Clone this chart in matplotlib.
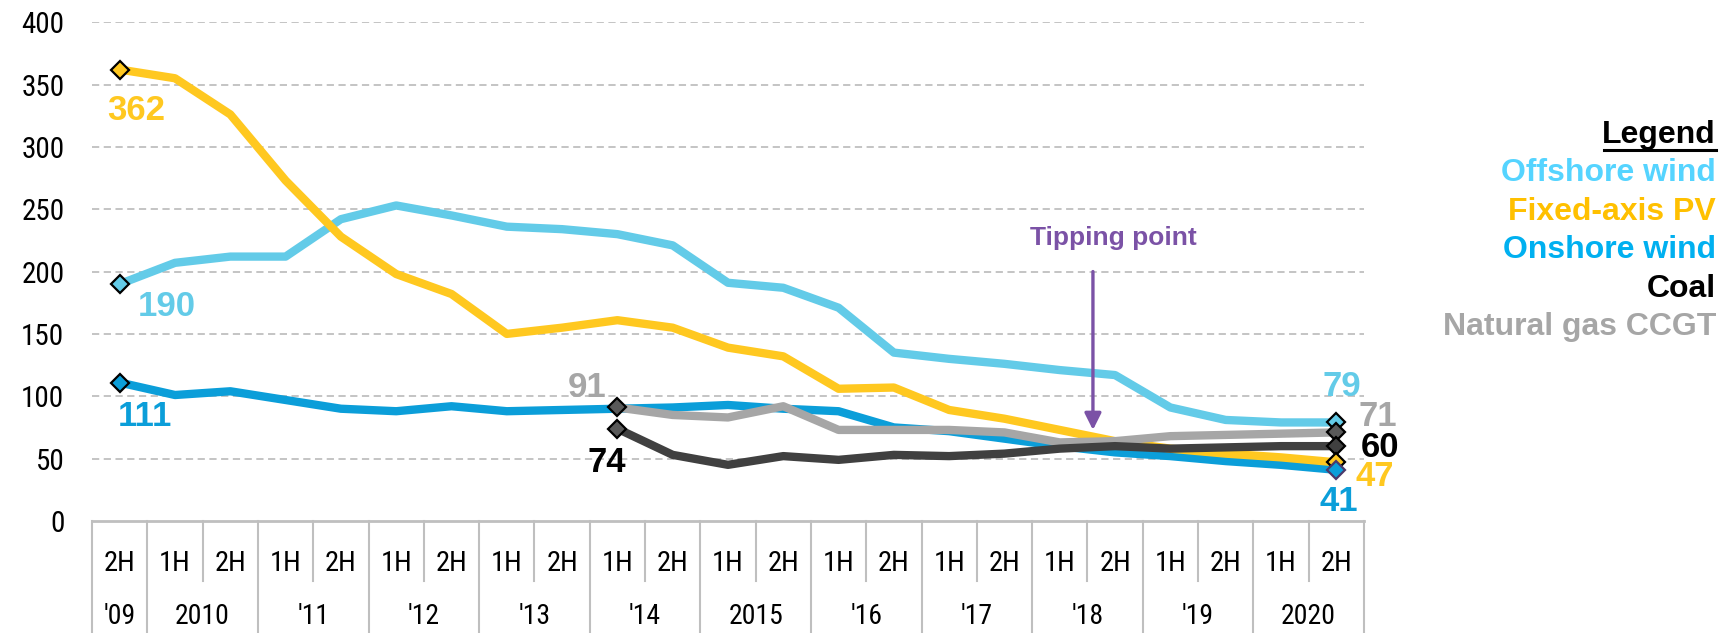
import numpy as np
import matplotlib
matplotlib.use("Agg")
import matplotlib.pyplot as plt
import matplotlib.transforms as mtransforms
from matplotlib import font_manager as fm

# half-year categories, 2H'09 .. 2H 2020
halves = ["2H"] + ["1H", "2H"] * 11
years = ["'09", "2010", "'11", "'12", "'13", "'14", "2015", "'16", "'17", "'18", "'19", "2020"]
year_spans = [(0, 0)] + [(1 + 2 * k, 2 + 2 * k) for k in range(11)]

offshore = [190, 207, 212, 212, 242, 253, 245, 236, 234, 230, 221, 191,
            187, 171, 135, 130, 126, 121, 117, 91, 81, 79, 79]
pv = [362, 355, 326, 273, 228, 198, 182, 150, 155, 161, 155, 139,
      132, 106, 107, 89, 82, 73, 64, 58, 54, 51, 47]
onshore = [111, 101, 104, 97, 90, 88, 92, 88, 89, 90, 91, 93,
           90, 88, 75, 72, 66, 60, 55, 52, 48, 45, 41]
fossil_start = 9  # 1H'14
coal = [74, 53, 45, 52, 49, 53, 52, 54, 58, 60, 58, 59, 60, 60]
gas = [91, 85, 83, 92, 73, 73, 73, 71, 63, 64, 68, 69, 70, 71]

C_OFF = "#63CBE8"
C_PV = "#FFC820"
C_ON = "#0B9ED9"
C_COAL = "#404040"
C_GAS = "#A6A6A6"
GRID = "#BFBFBF"
PURPLE = "#7B52A6"

# axis text in the reference is a narrow sans; pick whatever narrow face exists
fonts = fm.fontManager.ttflist
names = {f.name for f in fonts}
narrow_kw = {"family": ["Liberation Sans", "DejaVu Sans"]}
for cand in ["Liberation Sans Narrow", "Arial Narrow", "Roboto Condensed", "Open Sans Condensed"]:
    if cand in names:
        narrow_kw = {"family": [cand, "DejaVu Sans"]}
        break
else:
    if any(f.name == "DejaVu Sans" and f.stretch == "condensed" for f in fonts):
        narrow_kw = {"family": ["DejaVu Sans"], "stretch": "condensed"}

BOLD = ["Liberation Sans", "DejaVu Sans"]

fig = plt.figure(figsize=(17.21, 6.33), dpi=100)
ax = fig.add_axes([0.0535, 0.177, 0.739, 0.788])

x_all = np.arange(len(halves))
x_fos = np.arange(fossil_start, fossil_start + len(coal))

lw = 6
ax.plot(x_all, offshore, color=C_OFF, lw=lw, zorder=3)
ax.plot(x_all, onshore, color=C_ON, lw=lw, zorder=3)
ax.plot(x_all, pv, color=C_PV, lw=lw, zorder=3.1)
ax.plot(x_fos, gas, color=C_GAS, lw=lw, zorder=3.2)
ax.plot(x_fos, coal, color=C_COAL, lw=lw, zorder=3.3)


def diamond(x, y, fc, ec="black", z=5):
    ax.plot([x], [y], marker="D", ms=9, mfc=fc, mec=ec, mew=1.6,
            linestyle="none", zorder=z, clip_on=False)


diamond(0, pv[0], C_PV)
diamond(0, offshore[0], C_OFF)
diamond(0, onshore[0], C_ON)
diamond(fossil_start, gas[0], "#595959")
diamond(fossil_start, coal[0], "#595959")
last = len(halves) - 1
diamond(last, offshore[-1], C_OFF)
diamond(last, gas[-1], "#595959")
diamond(last, coal[-1], "#404040")
diamond(last, pv[-1], C_PV)
diamond(last, onshore[-1], C_ON, ec="#4B3A6B", z=6)

lab_fs = 25
labels = [
    (0.3, 329, "362", C_PV), (0.85, 172, "190", C_OFF), (0.45, 84, "111", C_ON),
    (8.45, 107, "91", C_GAS), (8.8, 47, "74", "black"),
    (22.1, 108, "79", C_OFF), (22.75, 84, "71", C_GAS), (22.8, 59, "60", "black"),
    (22.7, 36, "47", C_PV), (22.05, 16, "41", C_ON),
]
for lx, ly, txt, col in labels:
    ax.text(lx, ly, txt, color=col, fontsize=lab_fs, fontweight="bold",
            family=BOLD, ha="center", va="center", zorder=7, clip_on=False)

# tipping point annotation
ax.annotate("", xy=(17.6, 73), xytext=(17.6, 200),
            arrowprops=dict(arrowstyle="-|>,head_length=1.0,head_width=0.5",
                            color=PURPLE, lw=2.4, shrinkA=0, shrinkB=0))
ax.text(17.97, 227, "Tipping point", color=PURPLE, fontsize=19,
        fontweight="bold", family=BOLD, ha="center", va="center")

ax.set_xlim(-0.5, len(halves) - 0.5)
ax.set_ylim(0, 400)
for v in range(50, 401, 50):
    ax.axhline(v, color=GRID, lw=1.3, ls=(0, (4, 2.5)), zorder=1)

for s in ["top", "right", "left"]:
    ax.spines[s].set_visible(False)
ax.spines["bottom"].set_color(GRID)
ax.spines["bottom"].set_linewidth(2)

ax.tick_params(axis="y", length=0, pad=20)
ax.set_yticks(np.arange(0, 401, 50))
ax.set_yticklabels([str(v) for v in range(0, 401, 50)], fontsize=21, **narrow_kw)

ax.set_xticks([])
trans = mtransforms.blended_transform_factory(ax.transData, ax.transAxes)
for i, h in enumerate(halves):
    ax.text(i, -0.085, h, transform=trans, ha="center", va="center",
            fontsize=20.5, clip_on=False, **narrow_kw)
for (a, b), yr in zip(year_spans, years):
    ax.text((a + b) / 2, -0.192, yr, transform=trans, ha="center", va="center",
            fontsize=20, clip_on=False, **narrow_kw)

year_edges = [-0.5] + [b + 0.5 for _, b in year_spans]
half_edges = [a + 0.5 for a, b in year_spans if b > a]
for e in year_edges:
    ax.plot([e, e], [0, -0.25], transform=trans, color=GRID, lw=1.5, clip_on=False)
for e in half_edges:
    ax.plot([e, e], [0, -0.12], transform=trans, color=GRID, lw=1.5, clip_on=False)

# legend text block
leg_x = 1716 / 1721
leg_items = [("Offshore wind", "#55D4FF"), ("Fixed-axis PV", "#FFC000"),
             ("Onshore wind", "#00B0F0"), ("Coal", "black"),
             ("Natural gas CCGT", C_GAS)]
fig.text(leg_x, 1 - 135 / 633, "Legend", ha="right", va="center", fontsize=23,
         fontweight="bold", family=BOLD, color="black")
leg_w = 112 / 1721
fig.add_artist(plt.Line2D([leg_x - leg_w, leg_x], [1 - 150 / 633] * 2,
                          color="black", lw=2.2))
for k, (name, col) in enumerate(leg_items):
    fig.text(leg_x, 1 - (173 + 38.6 * k) / 633, name, ha="right", va="center",
             fontsize=23, fontweight="bold", family=BOLD, color=col)

fig.savefig("out.png", dpi=100)
